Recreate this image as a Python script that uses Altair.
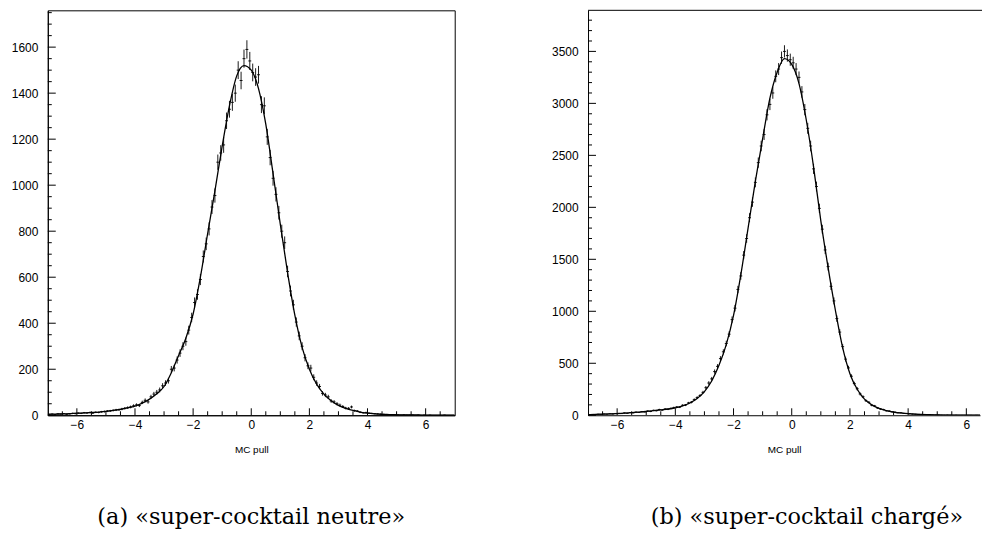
import altair as alt
import pandas as pd

# ---------------- data ----------------
BIN_START = -7.0
BIN_WIDTH = 0.1

# histogram counts, 140 bins of width 0.1 from -7 to 7 (one row per unit)
neutral_counts = [
    4, 5, 3, 6, 5, 7, 4, 6, 8, 7,
    9, 8, 11, 10, 12, 9, 13, 12, 15, 16,
    18, 19, 21, 23, 24, 27, 30, 33, 36, 41,
    45, 42, 56, 65, 58, 80, 92, 100, 110, 128,
    140, 150, 200, 205, 240, 270, 300, 320, 370, 425,
    490, 525, 590, 690, 745, 810, 905, 955, 1100, 1140,
    1175, 1280, 1330, 1360, 1400, 1500, 1455, 1550, 1590, 1540,
    1490, 1470, 1480, 1350, 1345, 1210, 1120, 1030, 960, 880,
    800, 750, 625, 540, 480, 405, 345, 300, 250, 215,
    205, 165, 140, 125, 95, 88, 80, 62, 58, 50,
    44, 38, 31, 30, 36, 20, 18, 13, 11, 12,
    9, 8, 7, 6, 5, 4, 3, 3, 2, 3,
    2, 1, 2, 1, 1, 1, 0, 1, 0, 1,
    0, 1, 0, 0, 0, 0, 1, 0, 0, 0,
]

charged_counts = [
    5, 8, 7, 10, 9, 12, 10, 14, 12, 17,
    18, 16, 22, 19, 26, 23, 30, 27, 35, 33,
    40, 36, 47, 44, 55, 50, 60, 57, 66, 74,
    80, 78, 96, 98, 118, 125, 150, 170, 190, 220,
    265, 310, 350, 420, 470, 545, 610, 690, 780, 920,
    1030, 1210, 1340, 1540, 1700, 1900, 2050, 2240, 2430, 2590,
    2700, 2890, 2990, 3100, 3260, 3330, 3440, 3500, 3460, 3420,
    3390, 3330, 3250, 3110, 2940, 2760, 2590, 2370, 2200, 1990,
    1790, 1590, 1430, 1240, 1100, 930, 800, 660, 540, 455,
    375, 305, 255, 205, 178, 140, 125, 96, 90, 70,
    60, 55, 43, 41, 33, 30, 24, 23, 18, 17,
    14, 11, 10, 9, 7, 8, 5, 5, 4, 3,
    3, 2, 2, 3, 2, 1, 2, 1, 1, 1,
    1, 1, 0, 1, 0, 0, 0, 1, 0, 0,
]

# fitted curve, sampled every 0.25 from -7 to 7
fit_x = [-7.0, -6.75, -6.5, -6.25, -6.0, -5.75, -5.5, -5.25, -5.0, -4.75,
         -4.5, -4.25, -4.0, -3.75, -3.5, -3.25, -3.0, -2.75, -2.5, -2.25,
         -2.0, -1.75, -1.5, -1.25, -1.0, -0.75, -0.5, -0.25, 0.0, 0.25,
         0.5, 0.75, 1.0, 1.25, 1.5, 1.75, 2.0, 2.25, 2.5, 2.75,
         3.0, 3.25, 3.5, 3.75, 4.0, 4.25, 4.5, 4.75, 5.0, 5.25,
         5.5, 5.75, 6.0, 6.25, 6.5, 6.75, 7.0]

neutral_fit = [4, 5, 6, 7, 9, 10, 12, 14, 17, 21,
               26, 32, 40, 53, 70, 93, 125, 185, 260, 335,
               440, 600, 790, 975, 1170, 1345, 1475, 1520, 1500, 1420,
               1265, 1050, 830, 620, 435, 295, 200, 135, 92, 63,
               43, 30, 21, 14, 9, 6, 4, 3, 2, 1,
               1, 1, 0, 0, 0, 0, 0]

charged_fit = [6, 8, 10, 13, 16, 20, 25, 30, 36, 44,
               52, 60, 72, 90, 118, 162, 228, 330, 480, 680,
               960, 1350, 1800, 2250, 2660, 3050, 3300, 3430, 3375, 3190,
               2840, 2390, 1870, 1420, 1010, 650, 400, 250, 155, 100,
               66, 45, 31, 22, 15, 10, 7, 5, 3, 2,
               2, 1, 1, 1, 0, 0, 0]

x_major_ticks = [-6, -4, -2, 0, 2, 4, 6]
x_minor_ticks = [-6.5, -5.5, -5, -4.5, -3.5, -3, -2.5, -1.5, -1, -0.5,
                 0.5, 1, 1.5, 2.5, 3, 3.5, 4.5, 5, 5.5, 6.5]

neutral_y_major = [0, 200, 400, 600, 800, 1000, 1200, 1400, 1600]
neutral_y_minor = [v for v in range(50, 1751, 50) if v % 200 != 0]
charged_y_major = [0, 500, 1000, 1500, 2000, 2500, 3000, 3500]
charged_y_minor = [v for v in range(100, 3801, 100) if v % 500 != 0]

captions = ["(a) «super-cocktail neutre»", "(b) «super-cocktail chargé»"]
x_title = "MC pull"

# ---------------- chart ----------------
H = 407
LABEL_FONT = "Liberation Sans"


def panel(counts, fit, ymax, ymajor, yminor, width, xmax, caption, cap_dx,
          frame_open_right=False):
    centers = [round(BIN_START + BIN_WIDTH * (i + 0.5), 3) for i in range(len(counts))]
    df = pd.DataFrame({"x": centers, "n": counts})
    fit_df = pd.DataFrame({"fx": fit_x, "fy": fit})

    xs = alt.Scale(domain=[-7, xmax], nice=False, zero=False)
    ys = alt.Scale(domain=[0, ymax], nice=False, zero=False)

    x_axis = alt.Axis(values=x_major_ticks, ticks=False, tickSize=0, grid=False,
                      labelFont=LABEL_FONT, labelFontSize=12, labelPadding=4,
                      labelColor="black", labelFlush=False, domainColor="black",
                      title=x_title, titleFont=LABEL_FONT, titleFontSize=10,
                      titleFontWeight="normal", titleColor="black", titlePadding=14,
                      format="d")
    y_axis = alt.Axis(values=ymajor, ticks=False, tickSize=0, grid=False,
                      labelFont=LABEL_FONT, labelFontSize=12, labelPadding=10,
                      labelColor="black", domainColor="black", title=None,
                      minExtent=39, maxExtent=39, format="d")

    base = alt.Chart(df).transform_calculate(
        lo="datum.n - sqrt(datum.n)",
        hi="datum.n + sqrt(datum.n)",
        x0=f"datum.x - {BIN_WIDTH / 2}",
        x1=f"datum.x + {BIN_WIDTH / 2}",
    )
    vbars = base.mark_rule(color="black", strokeWidth=0.9, clip=True).encode(
        x=alt.X("x:Q", scale=xs, axis=x_axis),
        y=alt.Y("lo:Q", scale=ys, axis=y_axis),
        y2="hi:Q",
    )
    hbars = base.mark_rule(color="black", strokeWidth=0.9, clip=True).encode(
        x="x0:Q", x2="x1:Q", y="n:Q",
    )
    curve = alt.Chart(fit_df).mark_line(color="black", strokeWidth=1.3,
                                         interpolate="monotone", clip=True).encode(
        x="fx:Q", y="fy:Q",
    )

    def xticks(vals, length):
        return alt.Chart(pd.DataFrame({"t": vals})).mark_rule(
            color="black", strokeWidth=1, clip=True).encode(
            x="t:Q", y=alt.value(H), y2=alt.value(H - length))

    def yticks(vals, length):
        return alt.Chart(pd.DataFrame({"t": vals})).mark_rule(
            color="black", strokeWidth=1).encode(
            y="t:Q", x=alt.value(0), x2=alt.value(length))

    parts = [vbars, hbars, curve,
             xticks(x_major_ticks, 7), xticks(x_minor_ticks, 4),
             yticks(ymajor, 8), yticks(yminor, 4)]
    if frame_open_right:
        # top edge of the frame (the right edge lies beyond the picture)
        parts.append(alt.Chart(pd.DataFrame({"t": [0]})).mark_rule(
            color="black", strokeWidth=1).encode(
            x=alt.value(0), x2=alt.value(width + 2), y=alt.value(0)))

    props = dict(
        width=width, height=H,
        title=alt.TitleParams(caption, orient="bottom", font="DejaVu Serif",
                              fontSize=22.5, fontWeight="normal", color="black",
                              offset=52, dx=cap_dx, anchor="middle"),
    )
    if frame_open_right:
        props["view"] = alt.ViewBackground(stroke=None)
    return alt.layer(*parts).properties(**props)


left = panel(neutral_counts, neutral_fit, 1760, neutral_y_major, neutral_y_minor,
             409, 7, captions[0], 0)
right = panel(charged_counts, charged_fit, 3895, charged_y_major, charged_y_minor,
              394, 6.47, captions[1], 23, frame_open_right=True)

chart = alt.hconcat(left, right, spacing=94).properties(
    padding=0,
    background="white",
).configure(padding=0).configure_view(stroke="black", strokeWidth=1)

chart.save("out.html", embed_options={"renderer": "svg", "actions": False})
